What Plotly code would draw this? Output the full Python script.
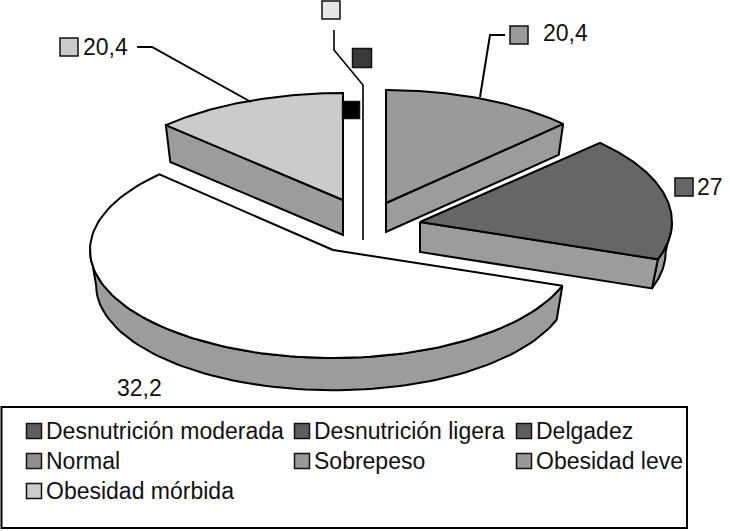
import numpy as np
import plotly.graph_objects as go

# ---- data ----
categories = ["Desnutrición moderada", "Desnutrición ligera", "Delgadez", "Normal",
              "Sobrepeso", "Obesidad leve", "Obesidad mórbida"]
legend_colors = ["#5e5e5e", "#5e5e5e", "#5e5e5e", "#8f8f8f", "#999999", "#999999", "#cccccc"]
# angular sizes as drawn (in the picture's own units), clockwise from 12 o'clock
slice_values = [20.4, 28.5, 91.8, 20.4]
slice_labels = ["20,4", "27", "32,2", "20,4"]
slice_colors = ["#9a9a9a", "#666666", "#ffffff", "#cbcbcb"]
wall_color = "#9c9c9c"

# ---- layout ----
W, H = 730, 531
SHRINK = 0.975
apexes = [(386, 203), (420, 222), (333, 250), (343, 200)]
radii_x = [248, 252, 243, 248]
radii_y = [113, 113, 108, 107]
depths = [29, 30, 35, 35]
draw_order = [2, 3, 0, 1]
FONT = "Liberation Sans, Arial, sans-serif"
FS = 23

fractions = np.array(slice_values) / sum(slice_values)
edges = np.concatenate([[0], np.cumsum(fractions)]) * 2 * np.pi


def rim(i, t, bottom=False):
    t = np.asarray(t, dtype=float)
    k = SHRINK if bottom else 1.0
    dy = depths[i] if bottom else 0
    return apexes[i][0] + k * radii_x[i] * np.sin(t), apexes[i][1] - k * radii_y[i] * np.cos(t) + dy


fig = go.Figure()


def poly(x, y, fill, lw=2):
    fig.add_trace(go.Scatter(x=list(x), y=list(y), mode="lines", fill="toself", fillcolor=fill,
                             line=dict(color="#000000", width=lw), hoverinfo="skip", showlegend=False))


def path(x, y, lw=2):
    fig.add_trace(go.Scatter(x=x, y=y, mode="lines", line=dict(color="#000000", width=lw),
                             hoverinfo="skip", showlegend=False))


for i in draw_order:
    a = apexes[i]
    t0, t1 = edges[i], edges[i + 1]
    # outer wall: only the part of the rim that faces the viewer
    w0, w1 = max(t0, np.pi / 2), min(t1, 3 * np.pi / 2)
    if w1 > w0:
        ts = np.linspace(w0, w1, 80)
        xt, yt = rim(i, ts)
        xb, yb = rim(i, ts[::-1], bottom=True)
        poly(np.r_[xt, xb, xt[0]], np.r_[yt, yb, yt[0]], wall_color)
    # cut faces facing the viewer
    faces = []
    if t1 < np.pi:
        faces.append(t1)
    if np.pi < t0 < 2 * np.pi:
        faces.append(t0)
    if i != 2:
        for t in faces:
            xt, yt = rim(i, t)
            xb, yb = rim(i, t, bottom=True)
            poly([a[0], xt, xb, a[0], a[0]], [a[1], yt, yb, a[1] + depths[i], a[1]], wall_color)
    # top face
    ts = np.linspace(t0, t1, 120)
    xt, yt = rim(i, ts)
    poly(np.r_[a[0], xt, a[0]], np.r_[a[1], yt, a[1]], slice_colors[i])

# leader lines
path([137, 152, 251], [47, 47, 102])
path([505, 490, 480], [35, 35, 97])
path([334, 334, 363, 363], [30, 50, 85, 240], lw=1.6)

# value-label swatches
lab_sw_x = [519, 684, 69, 331, 362, 351]
lab_sw_y = [35, 187, 47, 10, 58, 110]
lab_sw_c = ["#9a9a9a", "#666666", "#cbcbcb", "#e6e6e6", "#3a3a3a", "#000000"]
lab_sw_s = [18, 18, 18, 18, 19, 17]
fig.add_trace(go.Scatter(x=lab_sw_x, y=lab_sw_y, mode="markers", hoverinfo="skip", showlegend=False,
                         marker=dict(symbol="square", size=lab_sw_s, color=lab_sw_c, opacity=1,
                                     line=dict(color="#111111", width=1.5))))

# legend swatches
col_x = [34, 302, 524]
row_y = [431, 461, 491]
leg_x = [col_x[i % 3] for i in range(len(categories))]
leg_y = [row_y[i // 3] for i in range(len(categories))]
fig.add_trace(go.Scatter(x=leg_x, y=leg_y, mode="markers", hoverinfo="skip", showlegend=False,
                         marker=dict(symbol="square", size=15, color=legend_colors, opacity=1,
                                     line=dict(color="#111111", width=1.5))))

shapes = [dict(type="rect", x0=1.5, y0=407, x1=687, y1=528, xref="x", yref="y",
               line=dict(color="#000000", width=2), fillcolor="rgba(0,0,0,0)")]

annots = []


def label(x, y, s):
    annots.append(dict(x=x, y=y, text=s, xref="x", yref="y", xanchor="left", yanchor="middle",
                       showarrow=False, font=dict(family=FONT, size=FS, color="#111111"),
                       borderpad=0, borderwidth=0))


for i, name in enumerate(categories):
    label(leg_x[i] + 12, leg_y[i], name)
label(543, 33, slice_labels[0])
label(697, 187, slice_labels[1])
label(117, 388, slice_labels[2])
label(83, 47, slice_labels[3])

fig.update_layout(width=W, height=H, margin=dict(l=0, r=0, t=0, b=0), paper_bgcolor="#ffffff",
                  plot_bgcolor="#ffffff", showlegend=False, shapes=shapes, annotations=annots,
                  xaxis=dict(range=[0, W], visible=False, fixedrange=True),
                  yaxis=dict(range=[H, 0], visible=False, fixedrange=True))
fig.write_html("out.html", config={"displayModeBar": False},
               post_script="document.body.style.margin='0';document.body.style.overflow='hidden';")
